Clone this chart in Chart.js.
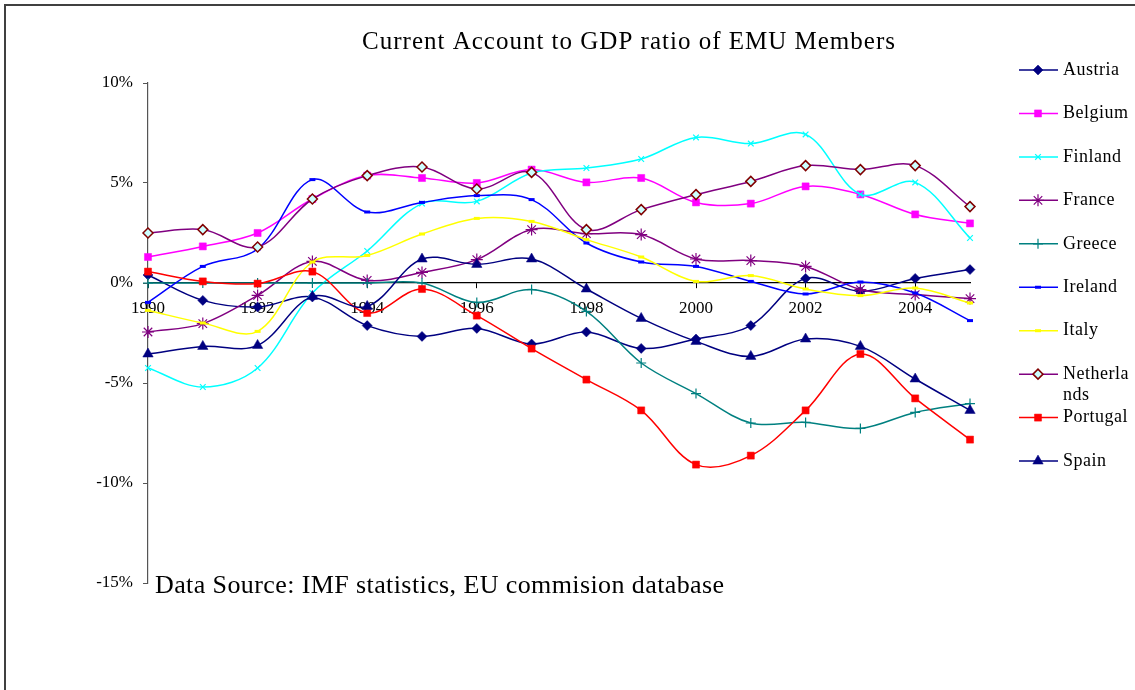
<!DOCTYPE html>
<html>
<head>
<meta charset="utf-8">
<title>Current Account to GDP ratio of EMU Members</title>
<script src="https://cdn.jsdelivr.net/npm/chart.js@4/dist/chart.umd.min.js"></script>
<style>
  html, body { margin: 0; padding: 0; background: #fff; }
  canvas { display: block; }
</style>
</head>
<body>
<canvas id="chart" width="1135" height="690"></canvas>
<script>
// values, % of GDP
var years = ['1990', '1991', '1992', '1993', '1994', '1995', '1996', '1997',
             '1998', '1999', '2000', '2001', '2002', '2003', '2004', '2005'];
var austria     = [0.4, -0.87, -1.2, -0.7, -2.13, -2.67, -2.27, -3.05, -2.45, -3.27, -2.8, -2.13, 0.23, -0.42, 0.23, 0.67];
var belgium     = [1.3, 1.83, 2.5, 4.2, 5.37, 5.25, 5.0, 5.67, 5.03, 5.25, 4.03, 3.97, 4.83, 4.43, 3.43, 2.98];
var finland     = [-4.25, -5.2, -4.25, -0.5, 1.6, 3.97, 4.08, 5.5, 5.75, 6.2, 7.28, 6.97, 7.43, 4.43, 5.03, 2.25];
var france      = [-2.45, -2.03, -0.62, 1.08, 0.13, 0.53, 1.17, 2.67, 2.47, 2.42, 1.2, 1.12, 0.83, -0.33, -0.58, -0.78];
var greece      = [0, 0, 0, 0, 0, 0, -0.97, -0.33, -1.42, -4.0, -5.53, -7.0, -6.97, -7.27, -6.47, -6.03];
var ireland     = [-0.97, 0.83, 1.7, 5.17, 3.55, 4.03, 4.37, 4.17, 2.0, 1.05, 0.83, 0.08, -0.55, 0.05, -0.5, -1.88];
var italy       = [-1.37, -2.0, -2.42, 1.05, 1.38, 2.45, 3.23, 3.08, 2.17, 1.3, 0.08, 0.37, -0.3, -0.63, -0.25, -1.0];
var netherlands = [2.5, 2.67, 1.8, 4.2, 5.37, 5.8, 4.7, 5.53, 2.67, 3.67, 4.42, 5.08, 5.87, 5.67, 5.87, 3.82];
var portugal    = [0.57, 0.08, -0.03, 0.57, -1.5, -0.3, -1.63, -3.28, -4.83, -6.37, -9.08, -8.63, -6.37, -3.55, -5.77, -7.83];
var spain       = [-3.55, -3.17, -3.12, -0.67, -1.17, 1.2, 0.93, 1.2, -0.3, -1.77, -2.92, -3.67, -2.8, -3.17, -4.8, -6.37];

var yTicks = [-15, -10, -5, 0, 5, 10];
var titleText = 'Current Account to GDP ratio of EMU Members';
var sourceText = 'Data Source: IMF statistics, EU commision database';

// look of each series (line colour, marker)
var series = [
  { name: 'Austria',     data: austria,     line: '#000080', marker: 'rectRot',  fill: '#000080', edge: '#000080', r: 5 },
  { name: 'Belgium',     data: belgium,     line: '#FF00FF', marker: 'rect',     fill: '#FF00FF', edge: '#FF00FF', r: 5 },
  { name: 'Finland',     data: finland,     line: '#00FFFF', marker: 'crossRot', fill: '#00FFFF', edge: '#00FFFF', r: 4 },
  { name: 'France',      data: france,      line: '#800080', marker: 'star',     fill: '#800080', edge: '#800080', r: 6 },
  { name: 'Greece',      data: greece,      line: '#008080', marker: 'cross',    fill: '#008080', edge: '#008080', r: 5 },
  { name: 'Ireland',     data: ireland,     line: '#0000FF', marker: 'line',     fill: '#0000FF', edge: '#0000FF', r: 3 },
  { name: 'Italy',       data: italy,       line: '#FFFF00', marker: 'line',     fill: '#FFFF00', edge: '#FFFF00', r: 3 },
  { name: 'Netherlands', data: netherlands, line: '#800080', marker: 'rectRot',  fill: '#CCFFFF', edge: '#800000', r: 5 },
  { name: 'Portugal',    data: portugal,    line: '#FF0000', marker: 'rect',     fill: '#FF0000', edge: '#FF0000', r: 5 },
  { name: 'Spain',       data: spain,       line: '#000080', marker: 'triangle', fill: '#000080', edge: '#000080', r: 6 }
];

var serif = '"Liberation Serif", "Times New Roman", serif';
Chart.defaults.font.family = serif;
Chart.defaults.color = '#000';

function markerWidth(s) {
  if (s.marker === 'line') return 3;
  if (s.marker === 'rectRot' && s.fill !== s.edge) return 1.5;
  if (s.marker === 'rect' || s.marker === 'rectRot' || s.marker === 'triangle') return 0.5;
  return 1.2;
}

var datasets = series.map(function (s, i) {
  return {
    label: s.name,
    data: s.data,
    borderColor: s.line,
    borderWidth: 1.5,
    tension: 0.35,
    fill: false,
    clip: false,
    order: series.length - i,
    pointStyle: s.marker,
    pointRadius: s.r,
    pointBorderWidth: markerWidth(s),
    pointBorderColor: s.edge,
    pointBackgroundColor: s.fill
  };
});

// frame, title, source note and the legend at the right
var decorations = {
  id: 'decorations',
  beforeDraw: function (chart) {
    var ctx = chart.ctx;
    ctx.save();
    ctx.strokeStyle = '#404040';
    ctx.lineWidth = 2;
    ctx.beginPath();
    ctx.moveTo(5, 690);
    ctx.lineTo(5, 5);
    ctx.lineTo(1135, 5);
    ctx.stroke();
    ctx.restore();
  },
  afterDraw: function (chart) {
    var ctx = chart.ctx;
    ctx.save();
    ctx.fillStyle = '#000';
    ctx.textBaseline = 'alphabetic';

    ctx.font = '25px ' + serif;
    ctx.letterSpacing = '1px';
    ctx.textAlign = 'center';
    ctx.fillText(titleText, 629, 49);

    ctx.textAlign = 'left';
    ctx.font = '26px ' + serif;
    ctx.letterSpacing = '0.4px';
    ctx.fillText(sourceText, 155, 593);

    ctx.font = '18px ' + serif;
    ctx.letterSpacing = '0.5px';
    ctx.textBaseline = 'middle';
    series.forEach(function (s, i) {
      var y = 70 + i * 43.45;
      ctx.strokeStyle = s.line;
      ctx.lineWidth = 1.5;
      ctx.beginPath();
      ctx.moveTo(1019, y);
      ctx.lineTo(1058, y);
      ctx.stroke();
      ctx.fillStyle = s.fill;
      ctx.strokeStyle = s.edge;
      ctx.lineWidth = markerWidth(s);
      Chart.helpers.drawPoint(ctx, {
        pointStyle: s.marker, radius: s.r, rotation: 0, borderWidth: markerWidth(s)
      }, 1038, y);
      // wrap the name into the narrow column, as the original does
      ctx.fillStyle = '#000';
      var lines = [], cur = '';
      for (var k = 0; k < s.name.length; k++) {
        var next = cur + s.name[k];
        if (ctx.measureText(next).width > 68 && cur) { lines.push(cur); cur = s.name[k]; }
        else cur = next;
      }
      lines.push(cur);
      lines.forEach(function (t, j) { ctx.fillText(t, 1063, y + j * 21); });
    });
    ctx.restore();
  }
};

new Chart(document.getElementById('chart'), {
  type: 'line',
  data: { labels: years, datasets: datasets },
  plugins: [decorations],
  options: {
    responsive: false,
    animation: false,
    devicePixelRatio: 1,
    layout: { padding: { left: 88, right: 165, top: 83, bottom: 107 } },
    plugins: { legend: { display: false }, tooltip: { enabled: false }, title: { display: false } },
    scales: {
      x: {
        type: 'category',
        position: { y: 0 },
        offset: false,
        afterFit: function (s) { s.height = 0; },
        grid: { display: true, drawOnChartArea: false, drawTicks: true, tickLength: 5, color: '#000' },
        border: { display: true, color: '#000', width: 1.2 },
        ticks: {
          autoSkip: false,
          maxRotation: 0,
          padding: 10,
          font: { size: 17 },
          callback: function (v, i) { return i % 2 === 0 ? years[i] : null; }
        }
      },
      y: {
        min: -15,
        max: 10,
        afterFit: function (s) { s.width = 60; },
        afterBuildTicks: function (s) { s.ticks = yTicks.map(function (v) { return { value: v }; }); },
        grid: { display: true, drawOnChartArea: false, drawTicks: true, tickLength: 5, color: '#555' },
        border: { display: true, color: '#555', width: 1.2 },
        ticks: {
          padding: 10,
          font: { size: 17 },
          callback: function (v) { return v + '%'; }
        }
      }
    }
  }
});
</script>
</body>
</html>
